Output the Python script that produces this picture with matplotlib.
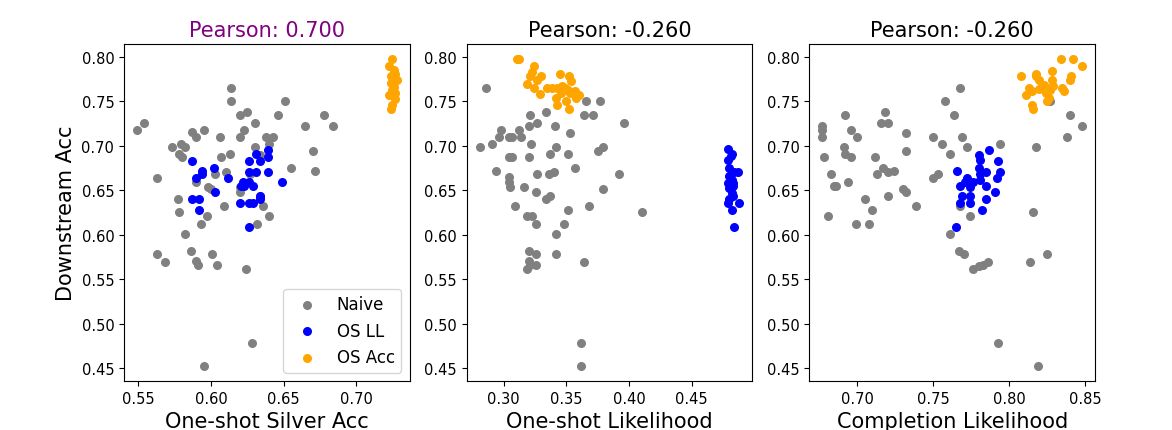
import numpy as np
import matplotlib
matplotlib.use('Agg')
import matplotlib.pyplot as plt

# --- Dados ---
titles = ["Pearson: 0.700", "Pearson: -0.260", "Pearson: -0.260"]
title_colors = ["purple", "black", "black"]
xlabels = ["One-shot Silver Acc", "One-shot Likelihood", "Completion Likelihood"]
xticks = [[0.55, 0.60, 0.65, 0.70], [0.30, 0.35, 0.40, 0.45], [0.70, 0.75, 0.80, 0.85]]
yticks = [0.45, 0.50, 0.55, 0.60, 0.65, 0.70, 0.75, 0.80]

# painel 1
naive_x1 = [0.549, 0.554, 0.563, 0.573, 0.579, 0.582, 0.578, 0.580, 0.587, 0.590, 0.595, 0.590,
            0.598, 0.600, 0.603, 0.607, 0.606, 0.613, 0.610, 0.614, 0.614, 0.620, 0.625, 0.623,
            0.620, 0.630, 0.630, 0.634, 0.638, 0.643, 0.640, 0.646, 0.651, 0.665, 0.678, 0.684,
            0.670, 0.672, 0.655, 0.620, 0.620, 0.627, 0.634, 0.636, 0.640, 0.632, 0.609, 0.597,
            0.593, 0.577, 0.578, 0.582, 0.563, 0.568, 0.586, 0.590, 0.591, 0.601, 0.604, 0.624,
            0.628, 0.595]
naive_y1 = [0.718, 0.726, 0.664, 0.699, 0.702, 0.699, 0.691, 0.687, 0.715, 0.710, 0.718, 0.659,
            0.654, 0.651, 0.668, 0.687, 0.710, 0.691, 0.671, 0.765, 0.750, 0.734, 0.738, 0.718,
            0.710, 0.725, 0.699, 0.690, 0.710, 0.710, 0.702, 0.734, 0.750, 0.722, 0.734, 0.722,
            0.694, 0.672, 0.675, 0.654, 0.648, 0.668, 0.644, 0.632, 0.621, 0.612, 0.632, 0.621,
            0.612, 0.640, 0.625, 0.601, 0.578, 0.569, 0.582, 0.570, 0.566, 0.578, 0.566, 0.562,
            0.479, 0.453]
osll_x1 = [0.587, 0.594, 0.594, 0.590, 0.587, 0.592, 0.592, 0.602, 0.612, 0.603, 0.626, 0.631,
           0.634, 0.639, 0.639, 0.639, 0.626, 0.631, 0.622, 0.623, 0.621, 0.626, 0.629, 0.634,
           0.634, 0.649, 0.620, 0.626, 0.629, 0.626]
osll_y1 = [0.683, 0.672, 0.668, 0.664, 0.640, 0.640, 0.628, 0.675, 0.664, 0.648, 0.683, 0.691,
           0.683, 0.695, 0.687, 0.671, 0.671, 0.671, 0.659, 0.655, 0.655, 0.659, 0.655, 0.644,
           0.640, 0.659, 0.636, 0.636, 0.636, 0.609]
osacc_x1 = [0.725, 0.723, 0.727, 0.724, 0.726, 0.724, 0.726, 0.725, 0.727, 0.723, 0.727, 0.725,
            0.724, 0.726, 0.728]
osacc_y1 = [0.797, 0.789, 0.781, 0.778, 0.775, 0.770, 0.766, 0.763, 0.759, 0.757, 0.752, 0.746,
            0.741, 0.785, 0.774]

# painel 2
naive_x2 = [0.281, 0.286, 0.291, 0.294, 0.296, 0.298, 0.304, 0.307, 0.304, 0.307, 0.304, 0.304,
            0.305, 0.309, 0.312, 0.314, 0.316, 0.320, 0.321, 0.322, 0.320, 0.319, 0.323, 0.326,
            0.327, 0.327, 0.326, 0.334, 0.334, 0.337, 0.336, 0.340, 0.341, 0.342, 0.337, 0.342,
            0.348, 0.351, 0.351, 0.353, 0.357, 0.364, 0.366, 0.371, 0.377, 0.368, 0.375, 0.379,
            0.379, 0.392, 0.396, 0.410, 0.320, 0.326, 0.320, 0.321, 0.319, 0.326, 0.342, 0.364,
            0.362, 0.362]
naive_y2 = [0.699, 0.765, 0.702, 0.672, 0.710, 0.718, 0.710, 0.710, 0.687, 0.687, 0.665, 0.659,
            0.654, 0.632, 0.718, 0.710, 0.654, 0.722, 0.734, 0.702, 0.687, 0.621, 0.621, 0.612,
            0.725, 0.668, 0.648, 0.738, 0.640, 0.644, 0.668, 0.671, 0.722, 0.699, 0.691, 0.601,
            0.612, 0.691, 0.628, 0.714, 0.675, 0.734, 0.750, 0.734, 0.750, 0.632, 0.694, 0.699,
            0.651, 0.668, 0.725, 0.625, 0.582, 0.578, 0.570, 0.566, 0.562, 0.566, 0.578, 0.569,
            0.479, 0.453]
osll_x2 = [0.479, 0.482, 0.479, 0.480, 0.484, 0.487, 0.480, 0.482, 0.479, 0.483, 0.480, 0.482,
           0.483, 0.480, 0.479, 0.488, 0.482, 0.484, 0.481, 0.483]
osll_y2 = [0.696, 0.691, 0.684, 0.675, 0.671, 0.671, 0.666, 0.662, 0.658, 0.658, 0.653, 0.647,
           0.643, 0.640, 0.636, 0.636, 0.628, 0.609, 0.688, 0.655]
osacc_x2 = [0.311, 0.312, 0.324, 0.323, 0.321, 0.330, 0.327, 0.319, 0.324, 0.329, 0.335, 0.339,
            0.343, 0.345, 0.352, 0.354, 0.349, 0.351, 0.346, 0.342, 0.343, 0.350, 0.352, 0.357,
            0.360, 0.358, 0.353, 0.347]
osacc_y2 = [0.797, 0.797, 0.789, 0.783, 0.778, 0.778, 0.774, 0.769, 0.765, 0.758, 0.765, 0.765,
            0.765, 0.781, 0.778, 0.773, 0.765, 0.763, 0.759, 0.753, 0.746, 0.750, 0.741, 0.761,
            0.757, 0.753, 0.759, 0.767]

# painel 3
naive_x3 = [0.677, 0.677, 0.677, 0.678, 0.681, 0.683, 0.685, 0.686, 0.692, 0.691, 0.692, 0.696,
            0.696, 0.700, 0.694, 0.705, 0.710, 0.699, 0.708, 0.712, 0.713, 0.717, 0.720, 0.724,
            0.720, 0.716, 0.720, 0.718, 0.730, 0.732, 0.732, 0.732, 0.739, 0.750, 0.750, 0.753,
            0.756, 0.758, 0.764, 0.761, 0.768, 0.769, 0.772, 0.768, 0.774, 0.794, 0.818, 0.816,
            0.827, 0.840, 0.838, 0.848, 0.761, 0.767, 0.770, 0.776, 0.780, 0.783, 0.786, 0.814,
            0.825, 0.793, 0.819]
naive_y3 = [0.722, 0.718, 0.710, 0.687, 0.621, 0.668, 0.655, 0.655, 0.734, 0.699, 0.691, 0.687,
            0.718, 0.710, 0.659, 0.640, 0.628, 0.612, 0.612, 0.687, 0.668, 0.675, 0.671, 0.672,
            0.644, 0.725, 0.725, 0.738, 0.651, 0.648, 0.714, 0.694, 0.632, 0.710, 0.664, 0.668,
            0.702, 0.750, 0.734, 0.691, 0.765, 0.710, 0.699, 0.632, 0.621, 0.702, 0.699, 0.625,
            0.750, 0.734, 0.710, 0.722, 0.601, 0.582, 0.578, 0.562, 0.565, 0.566, 0.569, 0.569,
            0.578, 0.479, 0.453]
osll_x3 = [0.765, 0.766, 0.768, 0.769, 0.768, 0.772, 0.771, 0.774, 0.774, 0.776, 0.780, 0.781,
           0.780, 0.781, 0.785, 0.781, 0.785, 0.785, 0.782, 0.787, 0.793, 0.794, 0.792, 0.791,
           0.774]
osll_y3 = [0.609, 0.672, 0.655, 0.644, 0.636, 0.664, 0.659, 0.643, 0.636, 0.659, 0.690, 0.684,
           0.675, 0.668, 0.671, 0.662, 0.655, 0.640, 0.628, 0.695, 0.683, 0.671, 0.664, 0.648,
           0.654]
osacc_x3 = [0.808, 0.811, 0.813, 0.815, 0.818, 0.818, 0.820, 0.823, 0.825, 0.824, 0.825, 0.826,
            0.828, 0.828, 0.829, 0.834, 0.842, 0.848, 0.841, 0.840, 0.835, 0.836, 0.815, 0.816,
            0.820, 0.827]
osacc_y3 = [0.778, 0.757, 0.765, 0.761, 0.780, 0.778, 0.774, 0.768, 0.765, 0.759, 0.750, 0.753,
            0.784, 0.774, 0.767, 0.797, 0.797, 0.789, 0.778, 0.774, 0.765, 0.761, 0.746, 0.741,
            0.764, 0.763]

panels = [
    (naive_x1, naive_y1, osll_x1, osll_y1, osacc_x1, osacc_y1),
    (naive_x2, naive_y2, osll_x2, osll_y2, osacc_x2, osacc_y2),
    (naive_x3, naive_y3, osll_x3, osll_y3, osacc_x3, osacc_y3),
]

# --- Figura ---
fig = plt.figure(figsize=(11.72, 4.31), dpi=100)
lefts = [0.1058, 0.3982, 0.6905]
w, h, b = 0.2438, 0.782, 0.1137

for i, (nx, ny, lx, ly, ax_, ay_) in enumerate(panels):
    ax = fig.add_axes([lefts[i], b, w, h])
    ax.scatter(nx, ny, s=30, color='grey', label='Naive')
    ax.scatter(lx, ly, s=30, color='blue', label='OS LL')
    ax.scatter(ax_, ay_, s=30, color='orange', label='OS Acc')
    ax.set_xticks(xticks[i])
    ax.set_yticks(yticks)
    ax.tick_params(labelsize=10.5)
    ax.set_xlabel(xlabels[i], fontsize=15)
    ax.set_title(titles[i], fontsize=15, color=title_colors[i])
    if i == 0:
        ax.set_ylabel("Downstream Acc", fontsize=15)
        ax.legend(loc='lower right', fontsize=12)

fig.savefig('out.png', dpi=100)
